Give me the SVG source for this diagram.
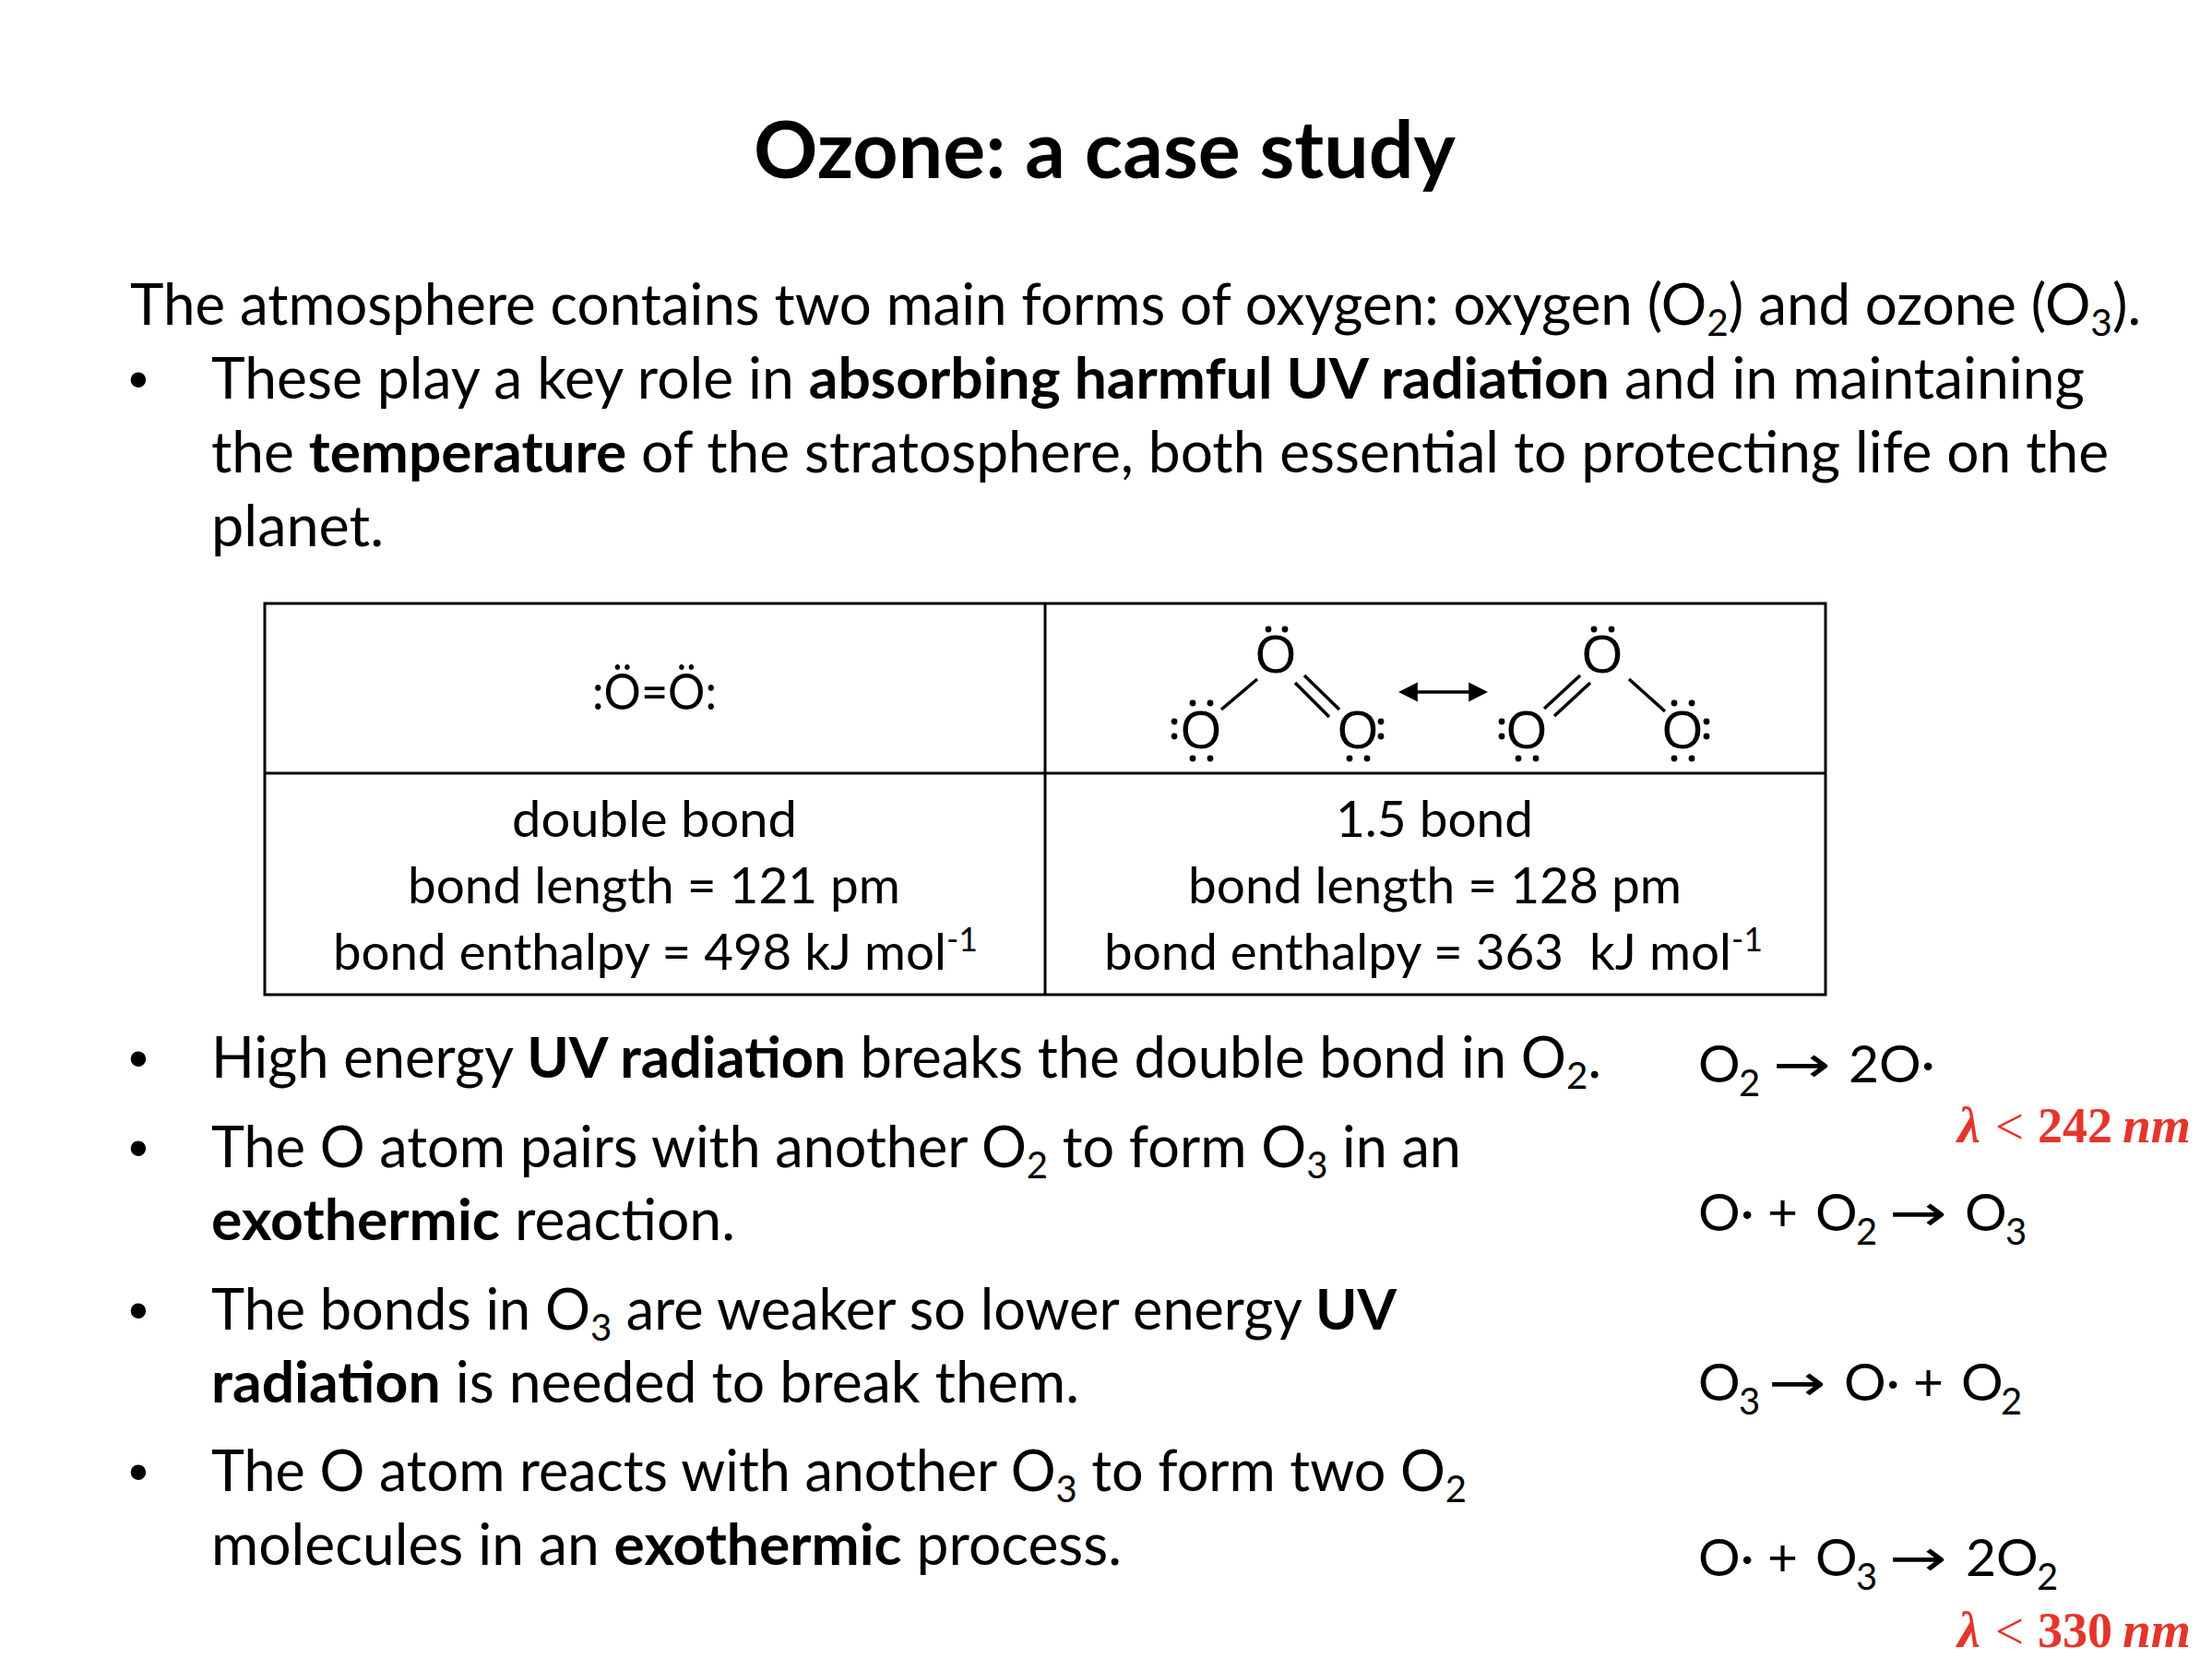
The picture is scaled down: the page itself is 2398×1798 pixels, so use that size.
<svg xmlns="http://www.w3.org/2000/svg" width="2398" height="1798" viewBox="0 0 2398 1798">
<style>
.b{font-family:Lato,"Liberation Sans",sans-serif;font-size:61px;fill:#000}
.bd{font-weight:700}
.sub{font-size:40px}
.bul{font-family:"Liberation Sans",Arial,sans-serif;font-size:61px;fill:#000}
.t{font-family:Lato,"Liberation Sans",sans-serif;font-size:55px;fill:#000}
.sup{font-size:36px}
.eq{font-family:Lato,"Liberation Sans",sans-serif;font-size:57px;fill:#000}
.es{font-size:40px}
.ar{font-family:"DejaVu Sans",sans-serif;font-size:56px}
.red{font-family:"Liberation Serif",serif;font-size:54px;fill:#E5352B}
.lt{font-size:58px;font-weight:400}
.ox{font-family:"Liberation Sans",Arial,sans-serif;font-size:57px;fill:#000}
.grid{fill:none;stroke:#000;stroke-width:3}
.bond{stroke:#000;stroke-width:3.5;stroke-linecap:butt}
.dot{fill:#000}
</style>
<defs>
<marker id="ah" viewBox="0 0 10 10" refX="8" refY="5" markerWidth="6" markerHeight="6.4" orient="auto-start-reverse" markerUnits="strokeWidth">
<path d="M0,0 L10,5 L0,10 Z" fill="#000"/>
</marker>
</defs>
<rect width="2398" height="1798" fill="#fff"/>

<g id="title">
<text class="b bd" x="817" y="193" style="font-size:86px" textLength="761" lengthAdjust="spacingAndGlyphs">Ozone: a case study</text>
</g>

<g id="intro">
<text class="b" x="141" y="352" textLength="2180" lengthAdjust="spacingAndGlyphs">The atmosphere contains two main forms of oxygen: oxygen (O<tspan class="sub" dy="12">2</tspan><tspan dy="-12">) and ozone (O</tspan><tspan class="sub" dy="12">3</tspan><tspan dy="-12">).</tspan></text>
<text class="bul" x="150" y="432" text-anchor="middle">•</text>
<text class="b" x="229" y="432" textLength="2031" lengthAdjust="spacingAndGlyphs">These play a key role in <tspan class="bd">absorbing harmful UV radiation</tspan> and in maintaining</text>
<text class="b" x="229" y="512" textLength="2057" lengthAdjust="spacingAndGlyphs">the <tspan class="bd">temperature</tspan> of the stratosphere, both essential to protecting life on the</text>
<text class="b" x="229" y="592" textLength="187" lengthAdjust="spacingAndGlyphs">planet.</text>
</g>

<g id="table">
<rect class="grid" x="287" y="654" width="1692" height="424"/>
<line class="grid" x1="287" y1="838" x2="1979" y2="838"/>
<line class="grid" x1="1133" y1="654" x2="1133" y2="1078"/>
<g id="o2-cell">
<text class="t" x="642" y="769" textLength="135" lengthAdjust="spacingAndGlyphs">:Ö=Ö:</text>
<text class="t" x="555" y="907" textLength="309" lengthAdjust="spacingAndGlyphs">double bond</text>
<text class="t" x="442" y="979" textLength="534" lengthAdjust="spacingAndGlyphs">bond length = 121 pm</text>
<text class="t" x="361" y="1051" textLength="699" lengthAdjust="spacingAndGlyphs">bond enthalpy = 498 kJ mol<tspan class="sup" dy="-20">-1</tspan></text>
</g>
<g id="o3-cell">
<text class="t" x="1448" y="907" textLength="214" lengthAdjust="spacingAndGlyphs">1.5 bond</text>
<text class="t" x="1288" y="979" textLength="535" lengthAdjust="spacingAndGlyphs">bond length = 128 pm</text>
<text class="t" x="1197" y="1051" textLength="714" lengthAdjust="spacingAndGlyphs">bond enthalpy = 363 &#160;kJ mol<tspan class="sup" dy="-20">-1</tspan></text>
</g>
</g>

<g id="ozone-structure-1">
<text class="ox" x="1383" y="729" text-anchor="middle">O</text>
<text class="ox" x="1302" y="811" text-anchor="middle">O</text>
<text class="ox" x="1472" y="811" text-anchor="middle">O</text>
<circle class="dot" cx="1375" cy="682" r="3.4"/><circle class="dot" cx="1393" cy="682" r="3.4"/>
<circle class="dot" cx="1293" cy="762" r="3.4"/><circle class="dot" cx="1312" cy="762" r="3.4"/>
<circle class="dot" cx="1273" cy="782" r="3.4"/><circle class="dot" cx="1273" cy="798" r="3.4"/>
<circle class="dot" cx="1293" cy="822" r="3.4"/><circle class="dot" cx="1312" cy="822" r="3.4"/>
<circle class="dot" cx="1497" cy="782" r="3.4"/><circle class="dot" cx="1497" cy="798" r="3.4"/>
<circle class="dot" cx="1463" cy="822" r="3.4"/><circle class="dot" cx="1482" cy="822" r="3.4"/>
</g>

<g id="ozone-structure-2">
<text class="ox" x="1737" y="729" text-anchor="middle">O</text>
<text class="ox" x="1655" y="811" text-anchor="middle">O</text>
<text class="ox" x="1824" y="811" text-anchor="middle">O</text>
<circle class="dot" cx="1728" cy="682" r="3.4"/><circle class="dot" cx="1747" cy="682" r="3.4"/>
<circle class="dot" cx="1628" cy="782" r="3.4"/><circle class="dot" cx="1628" cy="798" r="3.4"/>
<circle class="dot" cx="1646" cy="822" r="3.4"/><circle class="dot" cx="1665" cy="822" r="3.4"/>
<circle class="dot" cx="1815" cy="762" r="3.4"/><circle class="dot" cx="1834" cy="762" r="3.4"/>
<circle class="dot" cx="1850" cy="782" r="3.4"/><circle class="dot" cx="1850" cy="798" r="3.4"/>
<circle class="dot" cx="1815" cy="822" r="3.4"/><circle class="dot" cx="1834" cy="822" r="3.4"/>
</g>

<g id="connectors">
<line class="bond" x1="1324" y1="769" x2="1363" y2="736"/>
<line class="bond" x1="1404" y1="740" x2="1441" y2="777"/>
<line class="bond" x1="1414" y1="732" x2="1452" y2="769"/>
<line class="bond" x1="1674" y1="768" x2="1713" y2="732"/>
<line class="bond" x1="1685" y1="776" x2="1724" y2="740"/>
<line class="bond" x1="1766" y1="736" x2="1805" y2="771"/>
<line x1="1520" y1="750" x2="1609" y2="750" stroke="#000" stroke-width="3.5" marker-start="url(#ah)" marker-end="url(#ah)"/>
</g>

<g id="bullets">
<text class="bul" x="150" y="1168" text-anchor="middle">•</text>
<text class="b" x="229" y="1168" textLength="1507" lengthAdjust="spacingAndGlyphs">High energy <tspan class="bd">UV radiation</tspan> breaks the double bond in O<tspan class="sub" dy="12">2</tspan><tspan dy="-12">.</tspan></text>
<text class="bul" x="150" y="1265" text-anchor="middle">•</text>
<text class="b" x="229" y="1265" textLength="1355" lengthAdjust="spacingAndGlyphs">The O atom pairs with another O<tspan class="sub" dy="12">2</tspan><tspan dy="-12"> to form O</tspan><tspan class="sub" dy="12">3</tspan><tspan dy="-12"> in an</tspan></text>
<text class="b" x="229" y="1344" textLength="568" lengthAdjust="spacingAndGlyphs"><tspan class="bd">exothermic</tspan> reaction.</text>
<text class="bul" x="150" y="1441" text-anchor="middle">•</text>
<text class="b" x="229" y="1441" textLength="1285" lengthAdjust="spacingAndGlyphs">The bonds in O<tspan class="sub" dy="12">3</tspan><tspan dy="-12"> are weaker so lower energy </tspan><tspan class="bd">UV</tspan></text>
<text class="b" x="229" y="1520" textLength="941" lengthAdjust="spacingAndGlyphs"><tspan class="bd">radiation</tspan> is needed to break them.</text>
<text class="bul" x="150" y="1616" text-anchor="middle">•</text>
<text class="b" x="229" y="1616" textLength="1361" lengthAdjust="spacingAndGlyphs">The O atom reacts with another O<tspan class="sub" dy="12">3</tspan><tspan dy="-12"> to form two O</tspan><tspan class="sub" dy="12">2</tspan></text>
<text class="b" x="229" y="1696" textLength="987" lengthAdjust="spacingAndGlyphs">molecules in an <tspan class="bd">exothermic</tspan> process.</text>
</g>

<g id="equations">
<g id="eq1">
<text class="eq" y="1173"><tspan x="1841">O</tspan><tspan class="es" x="1885" dy="15">2</tspan><tspan class="ar" x="1922" dy="-15" textLength="63" lengthAdjust="spacingAndGlyphs">→</tspan><tspan x="2004">2O·</tspan></text>
<text class="red" y="1238"><tspan x="2122" font-style="italic" font-weight="700" textLength="25" lengthAdjust="spacingAndGlyphs">λ</tspan><tspan class="lt" x="2163" dy="2" textLength="31" lengthAdjust="spacingAndGlyphs">&lt;</tspan><tspan x="2209" dy="-2" font-weight="700" textLength="81" lengthAdjust="spacingAndGlyphs">242</tspan><tspan x="2301" font-style="italic" font-weight="700" textLength="74" lengthAdjust="spacingAndGlyphs">nm</tspan></text>
</g>
<g id="eq2">
<text class="eq" y="1334"><tspan x="1841">O·</tspan><tspan x="1916">+</tspan><tspan x="1968">O</tspan><tspan class="es" x="2012" dy="15">2</tspan><tspan class="ar" x="2048" dy="-15" textLength="63" lengthAdjust="spacingAndGlyphs">→</tspan><tspan x="2130">O</tspan><tspan class="es" x="2174" dy="15">3</tspan></text>
</g>
<g id="eq3">
<text class="eq" y="1518"><tspan x="1841">O</tspan><tspan class="es" x="1885" dy="15">3</tspan><tspan class="ar" x="1917" dy="-15" textLength="63" lengthAdjust="spacingAndGlyphs">→</tspan><tspan x="1999">O·</tspan><tspan x="2074">+</tspan><tspan x="2126">O</tspan><tspan class="es" x="2169" dy="15">2</tspan></text>
</g>
<g id="eq4">
<text class="eq" y="1708"><tspan x="1841">O·</tspan><tspan x="1916">+</tspan><tspan x="1968">O</tspan><tspan class="es" x="2012" dy="15">3</tspan><tspan class="ar" x="2048" dy="-15" textLength="63" lengthAdjust="spacingAndGlyphs">→</tspan><tspan x="2131">2O</tspan><tspan class="es" x="2208" dy="15">2</tspan></text>
<text class="red" y="1785"><tspan x="2122" font-style="italic" font-weight="700" textLength="25" lengthAdjust="spacingAndGlyphs">λ</tspan><tspan class="lt" x="2163" dy="2" textLength="31" lengthAdjust="spacingAndGlyphs">&lt;</tspan><tspan x="2209" dy="-2" font-weight="700" textLength="81" lengthAdjust="spacingAndGlyphs">330</tspan><tspan x="2301" font-style="italic" font-weight="700" textLength="74" lengthAdjust="spacingAndGlyphs">nm</tspan></text>
</g>
</g>
</svg>
